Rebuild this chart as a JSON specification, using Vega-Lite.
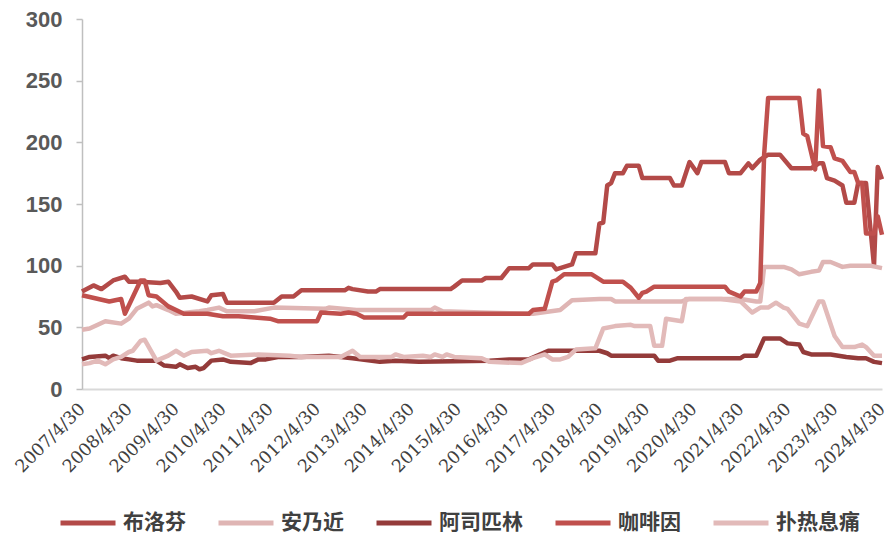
{
  "$schema": "https://vega.github.io/schema/vega-lite/v6.json",
  "width": 800,
  "height": 370,
  "autosize": {"type": "none"},
  "padding": {"left": 82, "top": 19, "right": 3, "bottom": 145},
  "background": "#ffffff",
  "config": {"view": {"stroke": null}},
  "data": {"values": [
    {"drug":"布洛芬","date":"2007-04-30","price":79},
    {"drug":"布洛芬","date":"2007-07-28","price":84},
    {"drug":"布洛芬","date":"2007-09-28","price":81},
    {"drug":"布洛芬","date":"2007-12-28","price":88},
    {"drug":"布洛芬","date":"2008-03-28","price":91},
    {"drug":"布洛芬","date":"2008-04-28","price":87},
    {"drug":"布洛芬","date":"2008-07-28","price":87},
    {"drug":"布洛芬","date":"2008-12-28","price":86},
    {"drug":"布洛芬","date":"2009-02-28","price":87},
    {"drug":"布洛芬","date":"2009-04-28","price":79},
    {"drug":"布洛芬","date":"2009-05-28","price":74},
    {"drug":"布洛芬","date":"2009-08-28","price":75},
    {"drug":"布洛芬","date":"2009-12-28","price":71},
    {"drug":"布洛芬","date":"2010-01-28","price":76},
    {"drug":"布洛芬","date":"2010-04-28","price":77},
    {"drug":"布洛芬","date":"2010-05-28","price":70},
    {"drug":"布洛芬","date":"2011-01-28","price":70},
    {"drug":"布洛芬","date":"2011-05-28","price":70},
    {"drug":"布洛芬","date":"2011-07-28","price":75},
    {"drug":"布洛芬","date":"2011-10-28","price":75},
    {"drug":"布洛芬","date":"2011-12-28","price":80},
    {"drug":"布洛芬","date":"2012-11-28","price":80},
    {"drug":"布洛芬","date":"2012-12-28","price":82},
    {"drug":"布洛芬","date":"2013-01-28","price":81},
    {"drug":"布洛芬","date":"2013-05-28","price":79},
    {"drug":"布洛芬","date":"2013-07-28","price":79},
    {"drug":"布洛芬","date":"2013-08-28","price":81},
    {"drug":"布洛芬","date":"2015-02-28","price":81},
    {"drug":"布洛芬","date":"2015-03-28","price":83},
    {"drug":"布洛芬","date":"2015-05-28","price":88},
    {"drug":"布洛芬","date":"2015-10-28","price":88},
    {"drug":"布洛芬","date":"2015-11-28","price":90},
    {"drug":"布洛芬","date":"2016-03-28","price":90},
    {"drug":"布洛芬","date":"2016-05-28","price":98},
    {"drug":"布洛芬","date":"2016-10-28","price":98},
    {"drug":"布洛芬","date":"2016-11-28","price":101},
    {"drug":"布洛芬","date":"2017-04-28","price":101},
    {"drug":"布洛芬","date":"2017-05-28","price":97},
    {"drug":"布洛芬","date":"2017-07-28","price":99},
    {"drug":"布洛芬","date":"2017-09-28","price":101},
    {"drug":"布洛芬","date":"2017-10-28","price":110},
    {"drug":"布洛芬","date":"2018-03-28","price":110},
    {"drug":"布洛芬","date":"2018-04-28","price":134},
    {"drug":"布洛芬","date":"2018-05-28","price":135},
    {"drug":"布洛芬","date":"2018-06-28","price":165},
    {"drug":"布洛芬","date":"2018-07-28","price":167},
    {"drug":"布洛芬","date":"2018-08-28","price":175},
    {"drug":"布洛芬","date":"2018-10-28","price":175},
    {"drug":"布洛芬","date":"2018-11-28","price":181},
    {"drug":"布洛芬","date":"2019-02-28","price":181},
    {"drug":"布洛芬","date":"2019-03-28","price":171},
    {"drug":"布洛芬","date":"2019-10-28","price":171},
    {"drug":"布洛芬","date":"2019-11-28","price":165},
    {"drug":"布洛芬","date":"2020-01-28","price":165},
    {"drug":"布洛芬","date":"2020-03-28","price":184},
    {"drug":"布洛芬","date":"2020-05-28","price":175},
    {"drug":"布洛芬","date":"2020-06-28","price":184},
    {"drug":"布洛芬","date":"2020-12-28","price":184},
    {"drug":"布洛芬","date":"2021-01-28","price":175},
    {"drug":"布洛芬","date":"2021-04-28","price":175},
    {"drug":"布洛芬","date":"2021-06-28","price":183},
    {"drug":"布洛芬","date":"2021-07-28","price":179},
    {"drug":"布洛芬","date":"2021-09-28","price":186},
    {"drug":"布洛芬","date":"2021-11-28","price":190},
    {"drug":"布洛芬","date":"2022-02-28","price":190},
    {"drug":"布洛芬","date":"2022-05-28","price":179},
    {"drug":"布洛芬","date":"2022-10-28","price":179},
    {"drug":"布洛芬","date":"2022-12-28","price":183},
    {"drug":"布洛芬","date":"2023-01-28","price":183},
    {"drug":"布洛芬","date":"2023-02-28","price":171},
    {"drug":"布洛芬","date":"2023-04-28","price":169},
    {"drug":"布洛芬","date":"2023-06-28","price":165},
    {"drug":"布洛芬","date":"2023-07-28","price":151},
    {"drug":"布洛芬","date":"2023-09-28","price":151},
    {"drug":"布洛芬","date":"2023-10-28","price":167},
    {"drug":"布洛芬","date":"2023-12-28","price":167},
    {"drug":"布洛芬","date":"2024-02-28","price":100},
    {"drug":"布洛芬","date":"2024-03-28","price":180},
    {"drug":"布洛芬","date":"2024-04-30","price":170},

    {"drug":"安乃近","date":"2007-04-30","price":48},
    {"drug":"安乃近","date":"2007-06-28","price":49},
    {"drug":"安乃近","date":"2007-10-28","price":55},
    {"drug":"安乃近","date":"2008-02-28","price":53},
    {"drug":"安乃近","date":"2008-04-28","price":57},
    {"drug":"安乃近","date":"2008-06-28","price":65},
    {"drug":"安乃近","date":"2008-09-28","price":70},
    {"drug":"安乃近","date":"2008-10-28","price":67},
    {"drug":"安乃近","date":"2008-11-28","price":68},
    {"drug":"安乃近","date":"2009-02-28","price":64},
    {"drug":"安乃近","date":"2009-04-28","price":61},
    {"drug":"安乃近","date":"2009-07-28","price":62},
    {"drug":"安乃近","date":"2009-10-28","price":63},
    {"drug":"安乃近","date":"2009-12-28","price":64},
    {"drug":"安乃近","date":"2010-03-28","price":66},
    {"drug":"安乃近","date":"2010-05-28","price":63},
    {"drug":"安乃近","date":"2010-12-28","price":63},
    {"drug":"安乃近","date":"2011-05-28","price":66},
    {"drug":"安乃近","date":"2012-06-28","price":65},
    {"drug":"安乃近","date":"2012-07-28","price":66},
    {"drug":"安乃近","date":"2013-02-28","price":64},
    {"drug":"安乃近","date":"2014-09-28","price":64},
    {"drug":"安乃近","date":"2014-10-28","price":66},
    {"drug":"安乃近","date":"2014-12-28","price":63},
    {"drug":"安乃近","date":"2015-10-28","price":62},
    {"drug":"安乃近","date":"2016-11-28","price":61},
    {"drug":"安乃近","date":"2017-06-28","price":64},
    {"drug":"安乃近","date":"2017-09-28","price":72},
    {"drug":"安乃近","date":"2018-04-28","price":73},
    {"drug":"安乃近","date":"2018-07-28","price":73},
    {"drug":"安乃近","date":"2018-08-28","price":71},
    {"drug":"安乃近","date":"2020-01-28","price":71},
    {"drug":"安乃近","date":"2020-03-28","price":73},
    {"drug":"安乃近","date":"2021-04-28","price":73},
    {"drug":"安乃近","date":"2021-08-28","price":71},
    {"drug":"安乃近","date":"2021-09-28","price":71},
    {"drug":"安乃近","date":"2021-10-28","price":99},
    {"drug":"安乃近","date":"2022-03-28","price":99},
    {"drug":"安乃近","date":"2022-05-28","price":97},
    {"drug":"安乃近","date":"2022-07-28","price":93},
    {"drug":"安乃近","date":"2022-10-28","price":95},
    {"drug":"安乃近","date":"2022-12-28","price":96},
    {"drug":"安乃近","date":"2023-01-28","price":103},
    {"drug":"安乃近","date":"2023-03-28","price":103},
    {"drug":"安乃近","date":"2023-06-28","price":99},
    {"drug":"安乃近","date":"2023-08-28","price":100},
    {"drug":"安乃近","date":"2024-01-28","price":100},
    {"drug":"安乃近","date":"2024-04-30","price":98},

    {"drug":"阿司匹林","date":"2007-04-30","price":24},
    {"drug":"阿司匹林","date":"2007-06-28","price":26},
    {"drug":"阿司匹林","date":"2007-10-28","price":27},
    {"drug":"阿司匹林","date":"2007-11-28","price":25},
    {"drug":"阿司匹林","date":"2007-12-28","price":27},
    {"drug":"阿司匹林","date":"2008-02-28","price":25},
    {"drug":"阿司匹林","date":"2008-04-28","price":24},
    {"drug":"阿司匹林","date":"2008-06-28","price":23},
    {"drug":"阿司匹林","date":"2008-11-28","price":23},
    {"drug":"阿司匹林","date":"2009-01-28","price":19},
    {"drug":"阿司匹林","date":"2009-04-28","price":18},
    {"drug":"阿司匹林","date":"2009-05-28","price":20},
    {"drug":"阿司匹林","date":"2009-07-28","price":17},
    {"drug":"阿司匹林","date":"2009-09-28","price":18},
    {"drug":"阿司匹林","date":"2009-10-28","price":16},
    {"drug":"阿司匹林","date":"2009-11-28","price":17},
    {"drug":"阿司匹林","date":"2010-01-28","price":23},
    {"drug":"阿司匹林","date":"2010-04-28","price":24},
    {"drug":"阿司匹林","date":"2010-06-28","price":22},
    {"drug":"阿司匹林","date":"2010-11-28","price":21},
    {"drug":"阿司匹林","date":"2011-01-28","price":24},
    {"drug":"阿司匹林","date":"2011-03-28","price":24},
    {"drug":"阿司匹林","date":"2011-06-28","price":26},
    {"drug":"阿司匹林","date":"2011-12-28","price":26},
    {"drug":"阿司匹林","date":"2012-07-28","price":27},
    {"drug":"阿司匹林","date":"2013-01-28","price":25},
    {"drug":"阿司匹林","date":"2013-08-28","price":22},
    {"drug":"阿司匹林","date":"2013-12-28","price":23},
    {"drug":"阿司匹林","date":"2014-06-28","price":22},
    {"drug":"阿司匹林","date":"2015-12-28","price":23},
    {"drug":"阿司匹林","date":"2016-05-28","price":24},
    {"drug":"阿司匹林","date":"2016-10-28","price":24},
    {"drug":"阿司匹林","date":"2017-03-28","price":31},
    {"drug":"阿司匹林","date":"2018-04-28","price":31},
    {"drug":"阿司匹林","date":"2018-06-28","price":29},
    {"drug":"阿司匹林","date":"2018-07-28","price":27},
    {"drug":"阿司匹林","date":"2019-06-28","price":27},
    {"drug":"阿司匹林","date":"2019-07-28","price":23},
    {"drug":"阿司匹林","date":"2019-10-28","price":23},
    {"drug":"阿司匹林","date":"2019-12-28","price":25},
    {"drug":"阿司匹林","date":"2021-04-28","price":25},
    {"drug":"阿司匹林","date":"2021-05-28","price":27},
    {"drug":"阿司匹林","date":"2021-08-28","price":27},
    {"drug":"阿司匹林","date":"2021-10-28","price":41},
    {"drug":"阿司匹林","date":"2022-02-28","price":41},
    {"drug":"阿司匹林","date":"2022-04-28","price":37},
    {"drug":"阿司匹林","date":"2022-07-28","price":36},
    {"drug":"阿司匹林","date":"2022-08-28","price":30},
    {"drug":"阿司匹林","date":"2022-10-28","price":28},
    {"drug":"阿司匹林","date":"2023-03-28","price":28},
    {"drug":"阿司匹林","date":"2023-05-28","price":27},
    {"drug":"阿司匹林","date":"2023-07-28","price":26},
    {"drug":"阿司匹林","date":"2023-10-28","price":25},
    {"drug":"阿司匹林","date":"2023-12-28","price":25},
    {"drug":"阿司匹林","date":"2024-02-28","price":22},
    {"drug":"阿司匹林","date":"2024-04-30","price":21},

    {"drug":"咖啡因","date":"2007-04-30","price":76},
    {"drug":"咖啡因","date":"2007-11-28","price":71},
    {"drug":"咖啡因","date":"2008-02-28","price":73},
    {"drug":"咖啡因","date":"2008-03-28","price":61},
    {"drug":"咖啡因","date":"2008-07-28","price":88},
    {"drug":"咖啡因","date":"2008-08-28","price":88},
    {"drug":"咖啡因","date":"2008-09-28","price":76},
    {"drug":"咖啡因","date":"2008-11-28","price":75},
    {"drug":"咖啡因","date":"2009-02-28","price":67},
    {"drug":"咖啡因","date":"2009-06-28","price":61},
    {"drug":"咖啡因","date":"2009-12-28","price":61},
    {"drug":"咖啡因","date":"2010-04-28","price":59},
    {"drug":"咖啡因","date":"2010-08-28","price":59},
    {"drug":"咖啡因","date":"2010-12-28","price":58},
    {"drug":"咖啡因","date":"2011-04-28","price":57},
    {"drug":"咖啡因","date":"2011-06-28","price":55},
    {"drug":"咖啡因","date":"2012-04-28","price":55},
    {"drug":"咖啡因","date":"2012-05-28","price":62},
    {"drug":"咖啡因","date":"2012-10-28","price":61},
    {"drug":"咖啡因","date":"2012-12-28","price":62},
    {"drug":"咖啡因","date":"2013-02-28","price":61},
    {"drug":"咖啡因","date":"2013-04-28","price":58},
    {"drug":"咖啡因","date":"2014-02-28","price":58},
    {"drug":"咖啡因","date":"2014-03-28","price":61},
    {"drug":"咖啡因","date":"2016-10-28","price":61},
    {"drug":"咖啡因","date":"2016-11-28","price":64},
    {"drug":"咖啡因","date":"2017-02-28","price":65},
    {"drug":"咖啡因","date":"2017-04-28","price":87},
    {"drug":"咖啡因","date":"2017-05-28","price":88},
    {"drug":"咖啡因","date":"2017-07-28","price":93},
    {"drug":"咖啡因","date":"2018-02-28","price":93},
    {"drug":"咖啡因","date":"2018-05-28","price":87},
    {"drug":"咖啡因","date":"2018-10-28","price":87},
    {"drug":"咖啡因","date":"2018-12-28","price":82},
    {"drug":"咖啡因","date":"2019-02-28","price":74},
    {"drug":"咖啡因","date":"2019-03-28","price":78},
    {"drug":"咖啡因","date":"2019-04-28","price":79},
    {"drug":"咖啡因","date":"2019-06-28","price":83},
    {"drug":"咖啡因","date":"2020-12-28","price":83},
    {"drug":"咖啡因","date":"2021-01-28","price":79},
    {"drug":"咖啡因","date":"2021-04-28","price":75},
    {"drug":"咖啡因","date":"2021-05-28","price":79},
    {"drug":"咖啡因","date":"2021-08-28","price":79},
    {"drug":"咖啡因","date":"2021-09-28","price":86},
    {"drug":"咖啡因","date":"2021-10-28","price":190},
    {"drug":"咖啡因","date":"2021-11-28","price":236},
    {"drug":"咖啡因","date":"2022-07-28","price":236},
    {"drug":"咖啡因","date":"2022-08-28","price":207},
    {"drug":"咖啡因","date":"2022-09-28","price":205},
    {"drug":"咖啡因","date":"2022-11-28","price":178},
    {"drug":"咖啡因","date":"2022-12-28","price":242},
    {"drug":"咖啡因","date":"2023-01-28","price":197},
    {"drug":"咖啡因","date":"2023-03-28","price":196},
    {"drug":"咖啡因","date":"2023-04-28","price":187},
    {"drug":"咖啡因","date":"2023-06-28","price":185},
    {"drug":"咖啡因","date":"2023-08-28","price":176},
    {"drug":"咖啡因","date":"2023-09-28","price":176},
    {"drug":"咖啡因","date":"2023-10-28","price":167},
    {"drug":"咖啡因","date":"2023-11-28","price":167},
    {"drug":"咖啡因","date":"2023-12-28","price":126},
    {"drug":"咖啡因","date":"2024-02-28","price":126},
    {"drug":"咖啡因","date":"2024-03-28","price":140},
    {"drug":"咖啡因","date":"2024-04-30","price":125},

    {"drug":"扑热息痛","date":"2007-04-30","price":20},
    {"drug":"扑热息痛","date":"2007-06-28","price":21},
    {"drug":"扑热息痛","date":"2007-08-28","price":23},
    {"drug":"扑热息痛","date":"2007-10-28","price":20},
    {"drug":"扑热息痛","date":"2007-12-28","price":24},
    {"drug":"扑热息痛","date":"2008-02-28","price":26},
    {"drug":"扑热息痛","date":"2008-04-28","price":30},
    {"drug":"扑热息痛","date":"2008-05-28","price":31},
    {"drug":"扑热息痛","date":"2008-07-28","price":39},
    {"drug":"扑热息痛","date":"2008-08-28","price":40},
    {"drug":"扑热息痛","date":"2008-11-28","price":23},
    {"drug":"扑热息痛","date":"2009-02-28","price":27},
    {"drug":"扑热息痛","date":"2009-04-28","price":31},
    {"drug":"扑热息痛","date":"2009-06-28","price":27},
    {"drug":"扑热息痛","date":"2009-08-28","price":30},
    {"drug":"扑热息痛","date":"2009-12-28","price":31},
    {"drug":"扑热息痛","date":"2010-01-28","price":29},
    {"drug":"扑热息痛","date":"2010-03-28","price":31},
    {"drug":"扑热息痛","date":"2010-06-28","price":27},
    {"drug":"扑热息痛","date":"2011-01-28","price":28},
    {"drug":"扑热息痛","date":"2011-09-28","price":27},
    {"drug":"扑热息痛","date":"2011-12-28","price":26},
    {"drug":"扑热息痛","date":"2012-10-28","price":26},
    {"drug":"扑热息痛","date":"2013-01-28","price":31},
    {"drug":"扑热息痛","date":"2013-03-28","price":26},
    {"drug":"扑热息痛","date":"2013-11-28","price":26},
    {"drug":"扑热息痛","date":"2013-12-28","price":28},
    {"drug":"扑热息痛","date":"2014-02-28","price":26},
    {"drug":"扑热息痛","date":"2014-07-28","price":27},
    {"drug":"扑热息痛","date":"2014-09-28","price":26},
    {"drug":"扑热息痛","date":"2014-10-28","price":28},
    {"drug":"扑热息痛","date":"2014-12-28","price":26},
    {"drug":"扑热息痛","date":"2015-01-28","price":28},
    {"drug":"扑热息痛","date":"2015-03-28","price":26},
    {"drug":"扑热息痛","date":"2015-10-28","price":25},
    {"drug":"扑热息痛","date":"2015-12-28","price":22},
    {"drug":"扑热息痛","date":"2016-08-28","price":21},
    {"drug":"扑热息痛","date":"2016-11-28","price":25},
    {"drug":"扑热息痛","date":"2017-02-28","price":28},
    {"drug":"扑热息痛","date":"2017-04-28","price":24},
    {"drug":"扑热息痛","date":"2017-06-28","price":24},
    {"drug":"扑热息痛","date":"2017-08-28","price":26},
    {"drug":"扑热息痛","date":"2017-10-28","price":32},
    {"drug":"扑热息痛","date":"2018-03-28","price":33},
    {"drug":"扑热息痛","date":"2018-05-28","price":49},
    {"drug":"扑热息痛","date":"2018-08-28","price":51},
    {"drug":"扑热息痛","date":"2018-12-28","price":52},
    {"drug":"扑热息痛","date":"2019-01-28","price":51},
    {"drug":"扑热息痛","date":"2019-05-28","price":51},
    {"drug":"扑热息痛","date":"2019-06-28","price":35},
    {"drug":"扑热息痛","date":"2019-08-28","price":35},
    {"drug":"扑热息痛","date":"2019-09-28","price":57},
    {"drug":"扑热息痛","date":"2020-01-28","price":55},
    {"drug":"扑热息痛","date":"2020-02-28","price":73},
    {"drug":"扑热息痛","date":"2020-11-28","price":73},
    {"drug":"扑热息痛","date":"2021-04-28","price":71},
    {"drug":"扑热息痛","date":"2021-07-28","price":62},
    {"drug":"扑热息痛","date":"2021-09-28","price":66},
    {"drug":"扑热息痛","date":"2021-11-28","price":66},
    {"drug":"扑热息痛","date":"2022-01-28","price":70},
    {"drug":"扑热息痛","date":"2022-03-28","price":66},
    {"drug":"扑热息痛","date":"2022-04-28","price":65},
    {"drug":"扑热息痛","date":"2022-07-28","price":53},
    {"drug":"扑热息痛","date":"2022-09-28","price":51},
    {"drug":"扑热息痛","date":"2022-12-28","price":71},
    {"drug":"扑热息痛","date":"2023-01-28","price":71},
    {"drug":"扑热息痛","date":"2023-04-28","price":43},
    {"drug":"扑热息痛","date":"2023-06-28","price":34},
    {"drug":"扑热息痛","date":"2023-09-28","price":34},
    {"drug":"扑热息痛","date":"2023-11-28","price":36},
    {"drug":"扑热息痛","date":"2023-12-28","price":34},
    {"drug":"扑热息痛","date":"2024-02-28","price":27},
    {"drug":"扑热息痛","date":"2024-04-30","price":27}
  ]},
  "mark": {"type": "line", "strokeWidth": 4.5, "strokeJoin": "round", "strokeCap": "butt"},
  "encoding": {
    "x": {
      "field": "date",
      "type": "temporal",
      "scale": {"type": "utc", "domain": [{"year": 2007, "month": 4, "date": 30, "utc": true}, {"year": 2024, "month": 4, "date": 30, "utc": true}]},
      "axis": {
        "title": null,
        "grid": false,
        "ticks": false,
        "domainColor": "#D9D9D9",
        "domainWidth": 2,
        "format": "%Y/%-m/%d",
        "values": [
          {"year": 2007, "month": 4, "date": 30, "utc": true},
          {"year": 2008, "month": 4, "date": 30, "utc": true},
          {"year": 2009, "month": 4, "date": 30, "utc": true},
          {"year": 2010, "month": 4, "date": 30, "utc": true},
          {"year": 2011, "month": 4, "date": 30, "utc": true},
          {"year": 2012, "month": 4, "date": 30, "utc": true},
          {"year": 2013, "month": 4, "date": 30, "utc": true},
          {"year": 2014, "month": 4, "date": 30, "utc": true},
          {"year": 2015, "month": 4, "date": 30, "utc": true},
          {"year": 2016, "month": 4, "date": 30, "utc": true},
          {"year": 2017, "month": 4, "date": 30, "utc": true},
          {"year": 2018, "month": 4, "date": 30, "utc": true},
          {"year": 2019, "month": 4, "date": 30, "utc": true},
          {"year": 2020, "month": 4, "date": 30, "utc": true},
          {"year": 2021, "month": 4, "date": 30, "utc": true},
          {"year": 2022, "month": 4, "date": 30, "utc": true},
          {"year": 2023, "month": 4, "date": 30, "utc": true},
          {"year": 2024, "month": 4, "date": 30, "utc": true}
        ],
        "labelAngle": -45,
        "labelAlign": "right",
        "labelBaseline": "middle",
        "labelPadding": 17,
        "labelDx": -8,
        "labelFont": "DejaVu Serif",
        "labelFontSize": 17.5,
        "labelColor": "#404040",
        "labelOverlap": false,
        "labelBound": false,
        "labelFlush": false
      }
    },
    "y": {
      "field": "price",
      "type": "quantitative",
      "scale": {"domain": [0, 300], "nice": false},
      "axis": {
        "title": null,
        "grid": false,
        "values": [0, 50, 100, 150, 200, 250, 300],
        "domainColor": "#BFBFBF",
        "domainWidth": 1.5,
        "tickColor": "#BFBFBF",
        "tickWidth": 1.5,
        "tickSize": 6,
        "labelFont": "Liberation Sans",
        "labelFontWeight": "bold",
        "labelFontSize": 22,
        "labelColor": "#595959",
        "labelPadding": 14
      }
    },
    "color": {
      "field": "drug",
      "type": "nominal",
      "scale": {
        "domain": ["布洛芬", "安乃近", "阿司匹林", "咖啡因", "扑热息痛"],
        "range": ["#B34A48", "#DFB5B4", "#943B3A", "#C0504D", "#E2BAB9"]
      },
      "legend": {
        "title": null,
        "orient": "none",
        "legendX": -24,
        "legendY": 474,
        "direction": "horizontal",
        "symbolType": "stroke",
        "symbolSize": 3025,
        "symbolStrokeWidth": 5,
        "labelFont": "Noto Sans CJK SC",
        "labelFontWeight": "bold",
        "labelFontSize": 21,
        "labelColor": "#404040",
        "labelOffset": 5,
        "columnPadding": 22
      }
    }
  }
}
